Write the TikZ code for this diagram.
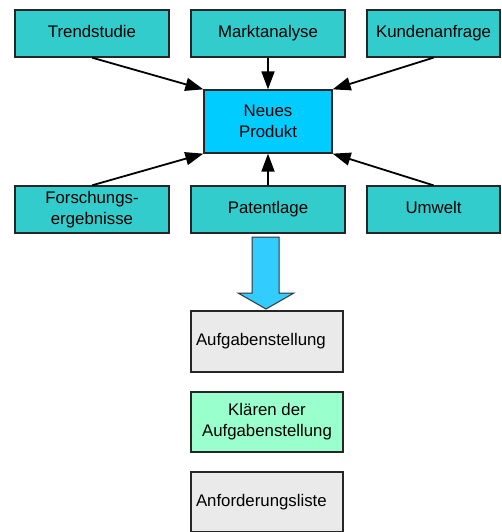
\documentclass[tikz,border=0pt]{standalone}
\usepackage{fontspec}
\setmainfont{Liberation Sans}
\usetikzlibrary{arrows.meta}
\definecolor{teal1}{HTML}{33CCCC}
\definecolor{prodblue}{HTML}{00CCFF}
\definecolor{bigarrow}{HTML}{33CCFF}
\definecolor{lightgray1}{HTML}{EAEAEA}
\definecolor{mint}{HTML}{99FFCC}
\tikzset{
  box/.style={draw=black!85, line width=1.3pt, rectangle, inner sep=0pt,
    font=\fontsize{16.8}{21}\selectfont, align=center},
  oneline/.style={text height=12pt, text depth=3.5pt},
  srcbox/.style={box, fill=teal1, minimum width=154pt, minimum height=47pt},
  docbox/.style={box, oneline, fill=lightgray1, minimum width=152pt, minimum height=61pt,
    align=left, text width=142pt},
  flow/.style={line width=1.8pt, -{Triangle[length=18pt,width=13pt]}}
}
\begin{document}
\begin{tikzpicture}[x=1pt,y=-1pt]
\useasboundingbox (0,0) rectangle (502,532);
% sources
\node[srcbox, oneline] (trend) at (92,33.5) {Trendstudie};
\node[srcbox, oneline] (markt) at (268,33.5) {Marktanalyse};
\node[srcbox, oneline, minimum width=133pt] (kunden) at (433.5,33.5) {Kundenanfrage};
\node[srcbox] (forsch) at (92,209.5) {Forschungs-\\ergebnisse};
\node[srcbox, oneline] (patent) at (268,209.5) {Patentlage};
\node[srcbox, oneline, minimum width=133pt] (umwelt) at (433.5,209.5) {Umwelt};
% product
\node[box, fill=prodblue, minimum width=128pt, minimum height=63pt] (prod) at (268,121.5) {Neues\\Produkt};
% inputs
\draw[flow] (trend.south) -- (prod.north west);
\draw[flow] (markt) -- (prod);
\draw[flow] (kunden.south) -- (prod.north east);
\draw[flow] (forsch.north) -- (prod.south west);
\draw[flow] (patent) -- (prod);
\draw[flow] (umwelt.north) -- (prod.south east);
% big downward arrow
\draw[fill=bigarrow, draw=black!80, line width=1pt]
  (252,237) -- (279,237) -- (279,293) -- (294,293) -- (266,309) -- (238,293) -- (252,293) -- cycle;
% task steps
\node[docbox] (aufg) at (267,341.5) {Aufgabenstellung};
\node[box, fill=mint, minimum width=152pt, minimum height=60pt] (klaer) at (267,422) {Klären der\\Aufgabenstellung};
\node[docbox, minimum height=60pt] (anf) at (267,502) {Anforderungsliste};
\end{tikzpicture}
\end{document}
